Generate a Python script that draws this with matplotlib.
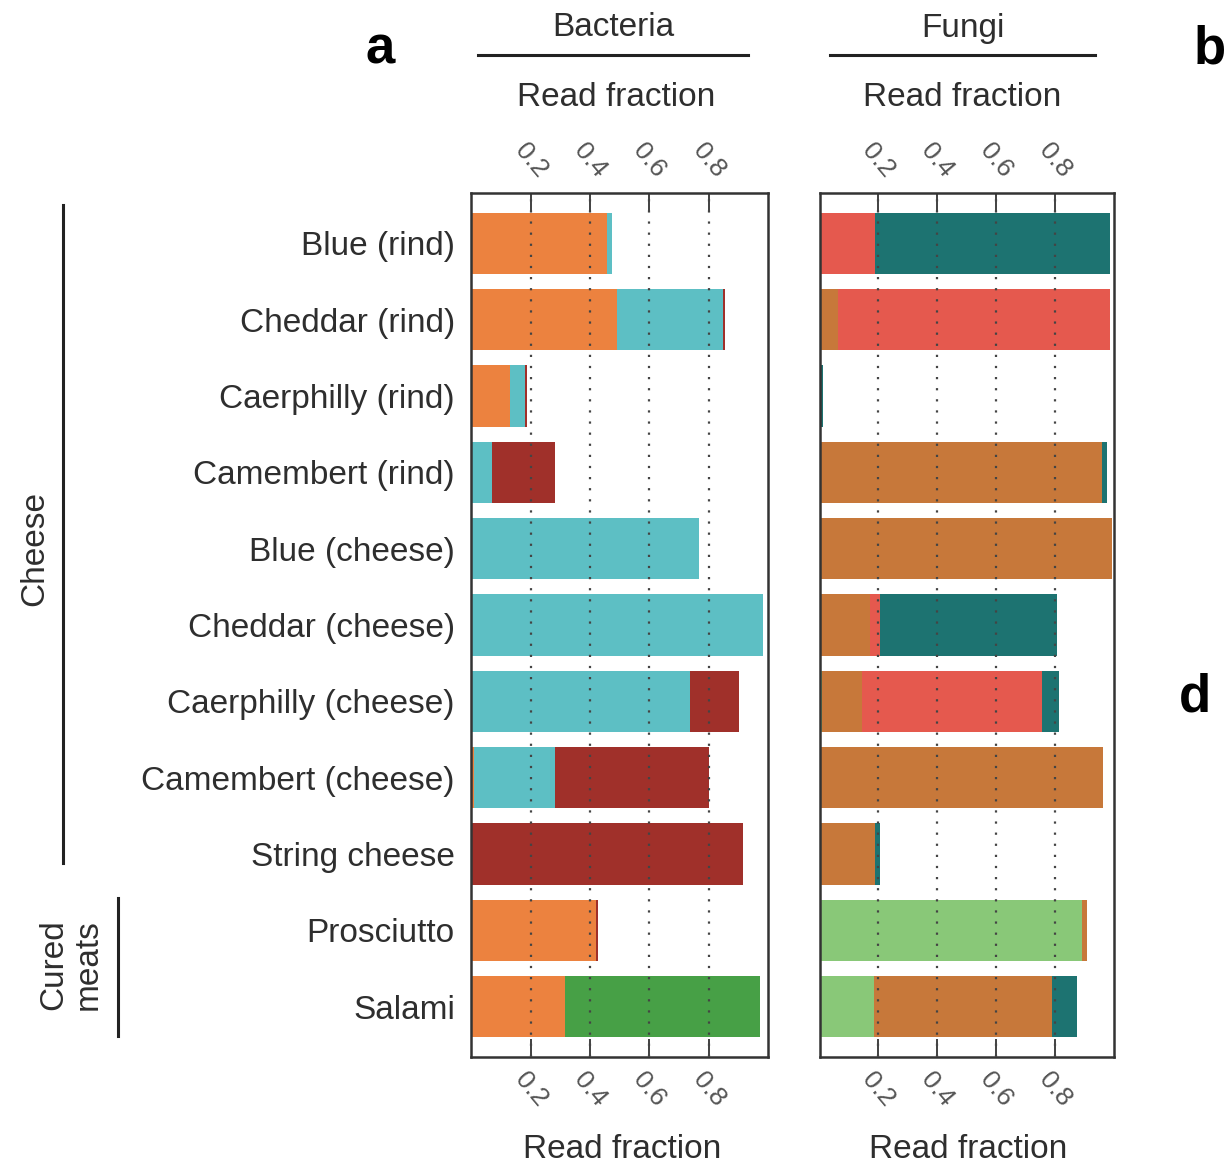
import matplotlib
matplotlib.use("Agg")
import matplotlib.pyplot as plt
import matplotlib.transforms as mtransforms
import numpy as np

plt.rcParams['font.family'] = ['Liberation Sans', 'DejaVu Sans']

# rows, top to bottom
samples = ["Blue (rind)", "Cheddar (rind)", "Caerphilly (rind)", "Camembert (rind)",
           "Blue (cheese)", "Cheddar (cheese)", "Caerphilly (cheese)", "Camembert (cheese)",
           "String cheese", "Prosciutto", "Salami"]

# bacteria read fractions (stacked in this order)
bac_orange = [0.457, 0.49, 0.13, 0.0, 0.0, 0.0, 0.0, 0.01, 0.0, 0.42, 0.315]
bac_cyan = [0.017, 0.358, 0.05, 0.069, 0.767, 0.983, 0.737, 0.272, 0.0, 0.0, 0.0]
bac_darkred = [0.0, 0.007, 0.007, 0.213, 0.0, 0.0, 0.165, 0.518, 0.915, 0.005, 0.0]
bac_green = [0.0, 0.0, 0.0, 0.0, 0.0, 0.0, 0.0, 0.0, 0.0, 0.0, 0.658]

# fungi read fractions (stacked in this order)
fun_lightgreen = [0.0, 0.0, 0.0, 0.0, 0.0, 0.006, 0.008, 0.0, 0.0, 0.893, 0.186]
fun_brown = [0.0, 0.064, 0.0, 0.961, 0.995, 0.166, 0.137, 0.964, 0.19, 0.017, 0.604]
fun_red = [0.19, 0.924, 0.0, 0.0, 0.0, 0.034, 0.612, 0.0, 0.0, 0.0, 0.0]
fun_teal = [0.798, 0.0, 0.012, 0.017, 0.0, 0.602, 0.058, 0.0, 0.016, 0.0, 0.085]

ticks = [0.2, 0.4, 0.6, 0.8]
tick_labels = ["0.2", "0.4", "0.6", "0.8"]

bac_series = [(bac_orange, "#EC823F"), (bac_cyan, "#5DBFC4"),
              (bac_darkred, "#A0302A"), (bac_green, "#47A046")]
fun_series = [(fun_lightgreen, "#89C878"), (fun_brown, "#C7783A"),
              (fun_red, "#E5594E"), (fun_teal, "#1D7371")]

W, H = 1226, 1170
fig = plt.figure(figsize=(W / 100, H / 100), dpi=100)
ax_b = fig.add_axes([471.5 / W, 1 - 1057 / H, 296.5 / W, 864 / H])
ax_f = fig.add_axes([819.5 / W, 1 - 1057 / H, 294 / W, 864 / H])

txt = "#2e2e2e"
y = np.arange(len(samples))

def draw_panel(ax, series):
    left = np.zeros(len(samples))
    for vals, col in series:
        vals = np.array(vals)
        ax.barh(y, vals, left=left, height=0.8, color=col, edgecolor="none", zorder=2)
        left += vals
    for t in ticks:
        ax.axvline(t, color="#444444", linestyle=(0, (1, 4)), linewidth=1.6, zorder=3)
    ax.set_xlim(0, 1)
    ax.set_ylim(10.66, -0.66)
    ax.set_xticks(ticks)
    ax.set_xticklabels(tick_labels, rotation=-50, color="#555555", fontsize=19)
    ax.tick_params(axis="x", direction="in", length=13, width=1.3, color="#333333",
                   top=True, labeltop=True, bottom=True, labelbottom=True, pad=8)
    for s in ax.spines.values():
        s.set_linewidth(1.8)
        s.set_color("#333333")

draw_panel(ax_b, bac_series)
draw_panel(ax_f, fun_series)

ax_b.set_yticks(y)
ax_b.set_yticklabels(samples, fontsize=24, color=txt)
ax_b.tick_params(axis="y", length=0, pad=12)
ax_f.set_yticks([])

# headers
for x0, x1, name in [(478, 748, "Bacteria"), (830, 1095, "Fungi")]:
    xc = (x0 + x1) / 2 / W
    fig.text(xc, 1 - 28 / H, name, ha="center", va="center", fontsize=24, color=txt)
    fig.add_artist(plt.Line2D([x0 / W, x1 / W], [1 - 55 / H, 1 - 55 / H],
                              color="#222222", linewidth=2.2))

for ax in [ax_b, ax_f]:
    pos = ax.get_position()
    xc = pos.x0 + pos.width / 2
    fig.text(xc - 4 / W, 1 - 98 / H, "Read fraction", ha="center", va="center",
             fontsize=24, color=txt)
    fig.text(xc + 2 / W, 1 - 1150 / H, "Read fraction", ha="center", va="center",
             fontsize=24, color=txt)

# panel letters
fig.text(380 / W, 1 - 50 / H, "a", fontsize=38, fontweight="bold", ha="center", va="center")
fig.text(1210 / W, 1 - 50 / H, "b", fontsize=38, fontweight="bold", ha="center", va="center")
fig.text(1195 / W, 1 - 697 / H, "d", fontsize=38, fontweight="bold", ha="center", va="center")

# group brackets
trans = mtransforms.blended_transform_factory(fig.transFigure, ax_b.transData)
ax_b.plot([63 / W, 63 / W], [-0.5, 8.12], transform=trans, color="#222222",
          linewidth=2.2, clip_on=False)
ax_b.plot([118 / W, 118 / W], [8.58, 10.39], transform=trans, color="#222222",
          linewidth=2.2, clip_on=False)
fig.text(35 / W, 1 - 548 / H, "Cheese", rotation=90, ha="center", va="center",
         fontsize=24, color=txt)
fig.text(71 / W, 1 - 965 / H, "Cured\nmeats", rotation=90, ha="center", va="center",
         fontsize=24, color=txt, linespacing=1.15)

fig.savefig("out.png", dpi=100, facecolor="white")
